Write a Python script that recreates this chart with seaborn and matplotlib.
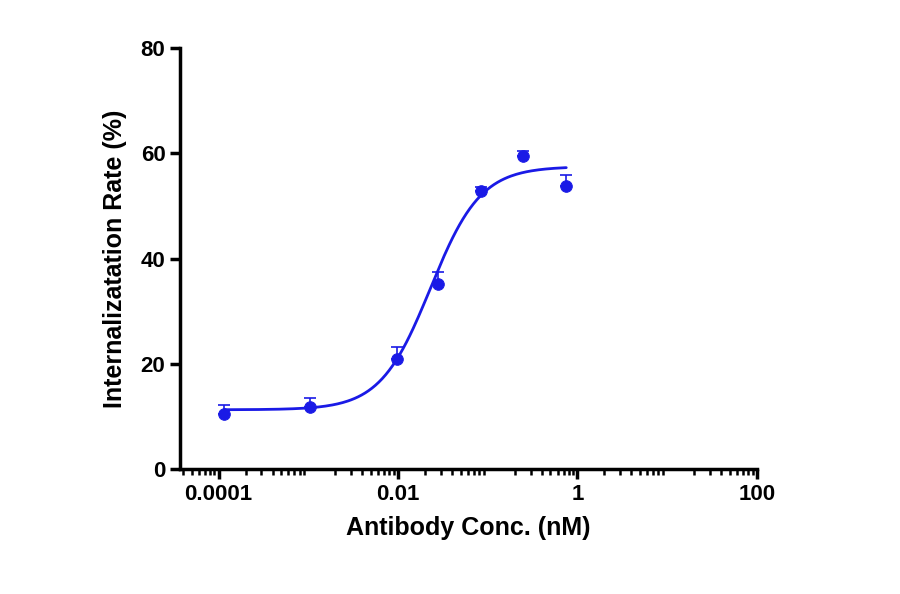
import numpy as np
import matplotlib
matplotlib.use('Agg')
import matplotlib.pyplot as plt
import matplotlib.ticker as mticker
import seaborn as sns

conc = [0.000115, 0.00105, 0.0097, 0.028, 0.085, 0.25, 0.75]
rate = [10.5, 11.8, 21.0, 35.2, 52.8, 59.6, 53.9]
err = [1.7, 1.8, 2.3, 2.2, 0.8, 0.8, 2.0]
# four-parameter logistic fit shown on the chart
bottom, top, ec50, hill = 11.3, 57.5, 0.023, 1.55
xticks = [0.0001, 0.01, 1, 100]
xticklabels = ['0.0001', '0.01', '1', '100']

sns.set_style("ticks")
plt.rcParams['font.family'] = ['Liberation Sans', 'DejaVu Sans']
plt.rcParams['text.color'] = 'black'
plt.rcParams['axes.labelcolor'] = 'black'
plt.rcParams['xtick.color'] = 'black'
plt.rcParams['ytick.color'] = 'black'
plt.rcParams['axes.edgecolor'] = 'black'
color = '#1a1ae6'

fig = plt.figure(figsize=(9, 5.94), dpi=100)
ax = fig.add_axes([0.2, 0.21, 0.641, 0.709])

xs = np.logspace(np.log10(0.000115), np.log10(0.75), 200)
ys = bottom + (top - bottom) / (1 + (ec50 / xs) ** hill)
sns.lineplot(x=xs, y=ys, color=color, linewidth=2, ax=ax)
ax.errorbar(conc, rate, yerr=[np.zeros(len(err)), err], fmt='none',
            ecolor=color, elinewidth=1.2, capsize=4, capthick=1.2)
sns.scatterplot(x=conc, y=rate, color=color, s=70, edgecolor=color, ax=ax, zorder=3)

ax.set_xscale('log')
ax.set_xlim(10 ** -4.43, 100)
ax.set_ylim(0, 80)
ax.set_xticks(xticks)
ax.set_xticklabels(xticklabels)
ax.xaxis.set_minor_locator(mticker.LogLocator(base=10, subs=np.arange(2, 10)))
ax.xaxis.set_minor_formatter(mticker.NullFormatter())
ax.set_yticks([0, 20, 40, 60, 80])
ax.tick_params(axis='both', which='major', labelsize=16, width=2.5, length=7)
ax.tick_params(axis='x', which='minor', width=1.8, length=4)
for lab in ax.get_xticklabels() + ax.get_yticklabels():
    lab.set_fontweight('bold')
for s in ['left', 'bottom']:
    ax.spines[s].set_linewidth(2.5)
sns.despine(ax=ax)
ax.set_xlabel('Antibody Conc. (nM)', fontsize=18, fontweight='bold', labelpad=8)
ax.set_ylabel('Internalizatation Rate (%)', fontsize=18, fontweight='bold', labelpad=10)

plt.savefig('out.png', dpi=100)
